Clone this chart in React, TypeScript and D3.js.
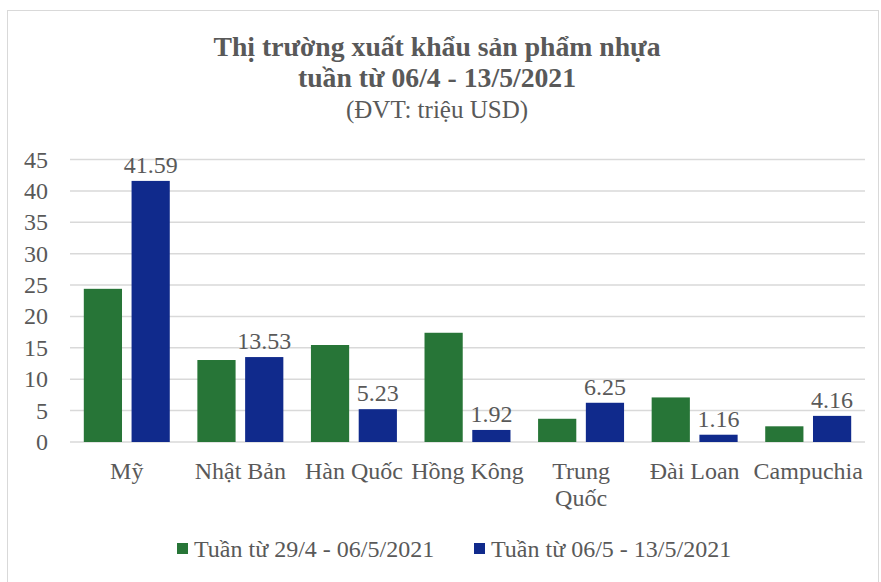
import * as d3 from 'd3'
import React, { useEffect, useRef } from 'react'

const categories = ['Mỹ', 'Nhật Bản', 'Hàn Quốc', 'Hồng Kông', 'Trung Quốc', 'Đài Loan', 'Campuchia']
const seriesNames = ['Tuần từ 29/4 - 06/5/2021', 'Tuần từ 06/5 - 13/5/2021']
const prevWeek = [24.4, 13.06, 15.45, 17.4, 3.7, 7.1, 2.5]
const thisWeek = [41.59, 13.53, 5.23, 1.92, 6.25, 1.16, 4.16]
const yTicks = [0, 5, 10, 15, 20, 25, 30, 35, 40, 45]
const colors = ['#277537', '#102a8c']
const wrapped = ['Trung Quốc']

const W = 881
const H = 582
const FONT = '"Liberation Serif", "Times New Roman", serif'
const TEXT = '#595959'

export default function App() {
  const ref = useRef<SVGSVGElement>(null)

  useEffect(() => {
    const svg = d3.select(ref.current)
    svg.selectAll('*').remove()

    const left = 70
    const right = 865
    const top = 159.5
    const bottom = 442

    // frame
    svg
      .append('rect')
      .attr('x', 7.5)
      .attr('y', 10.5)
      .attr('width', W - 10)
      .attr('height', H)
      .attr('fill', '#fff')
      .attr('stroke', '#d9d9d9')

    // titles
    const title = svg.append('g').attr('font-family', FONT).attr('fill', TEXT).attr('text-anchor', 'middle')
    title
      .append('text')
      .attr('x', 437)
      .attr('y', 56)
      .attr('font-size', 27.7)
      .attr('font-weight', 'bold')
      .text('Thị trường xuất khẩu sản phẩm nhựa')
    title
      .append('text')
      .attr('x', 437)
      .attr('y', 87)
      .attr('font-size', 27.7)
      .attr('font-weight', 'bold')
      .text('tuần từ 06/4 - 13/5/2021')
    title
      .append('text')
      .attr('x', 437)
      .attr('y', 118)
      .attr('font-size', 25)
      .text('(ĐVT: triệu USD)')

    const x = d3.scaleBand().domain(categories).range([left, right]).paddingInner(0.243).paddingOuter(0.1215)
    const xs = d3.scaleBand().domain(seriesNames).range([0, x.bandwidth()]).paddingInner(0.2)
    const y = d3.scaleLinear().domain([0, 45]).range([bottom, top])

    // gridlines
    svg
      .append('g')
      .selectAll('line')
      .data(yTicks)
      .join('line')
      .attr('x1', left)
      .attr('x2', right)
      .attr('y1', (d) => y(d))
      .attr('y2', (d) => y(d))
      .attr('stroke', '#d9d9d9')
      .attr('stroke-width', 1.5)

    // y tick labels
    svg
      .append('g')
      .selectAll('text')
      .data(yTicks)
      .join('text')
      .attr('x', 48)
      .attr('y', (d) => y(d) + 8)
      .attr('text-anchor', 'end')
      .attr('font-family', FONT)
      .attr('font-size', 24)
      .attr('fill', TEXT)
      .text((d) => d)

    // bars
    const series = [prevWeek, thisWeek]
    series.forEach((vals, si) => {
      svg
        .append('g')
        .selectAll('rect')
        .data(vals)
        .join('rect')
        .attr('x', (d, i) => (x(categories[i]) as number) + (xs(seriesNames[si]) as number))
        .attr('y', (d) => y(d))
        .attr('width', xs.bandwidth())
        .attr('height', (d) => bottom - y(d))
        .attr('fill', colors[si])
    })

    // data labels for second series
    svg
      .append('g')
      .selectAll('text')
      .data(thisWeek)
      .join('text')
      .attr('x', (d, i) => (x(categories[i]) as number) + (xs(seriesNames[1]) as number) + xs.bandwidth() / 2)
      .attr('y', (d) => y(d) - 8)
      .attr('text-anchor', 'middle')
      .attr('font-family', FONT)
      .attr('font-size', 24)
      .attr('fill', TEXT)
      .text((d) => d.toFixed(2))

    // category labels
    const cat = svg
      .append('g')
      .selectAll('text')
      .data(categories)
      .join('text')
      .attr('x', (d) => (x(d) as number) + x.bandwidth() / 2)
      .attr('y', 479)
      .attr('text-anchor', 'middle')
      .attr('font-family', FONT)
      .attr('font-size', 24)
      .attr('fill', TEXT)
    cat.each(function (d) {
      const t = d3.select(this)
      const lines = wrapped.includes(d) ? d.split(' ') : [d]
      lines.forEach((l, i) => {
        t.append('tspan')
          .attr('x', (x(d) as number) + x.bandwidth() / 2)
          .attr('dy', i === 0 ? 0 : 27)
          .text(l)
      })
    })

    // legend
    const legendX = [177, 474]
    const lg = svg
      .append('g')
      .selectAll('g')
      .data(seriesNames)
      .join('g')
      .attr('transform', (d, i) => `translate(${legendX[i]},557)`)
    lg.append('rect')
      .attr('x', 0)
      .attr('y', -14)
      .attr('width', 11)
      .attr('height', 11)
      .attr('fill', (d, i) => colors[i])
    lg.append('text')
      .attr('x', 17)
      .attr('y', 0)
      .attr('font-family', FONT)
      .attr('font-size', 24)
      .attr('fill', TEXT)
      .text((d) => d)
  }, [])

  return (
    <svg
      ref={ref}
      width={W}
      height={H}
      style={{ position: 'absolute', left: 0, top: 0, background: '#fff' }}
    />
  )
}
